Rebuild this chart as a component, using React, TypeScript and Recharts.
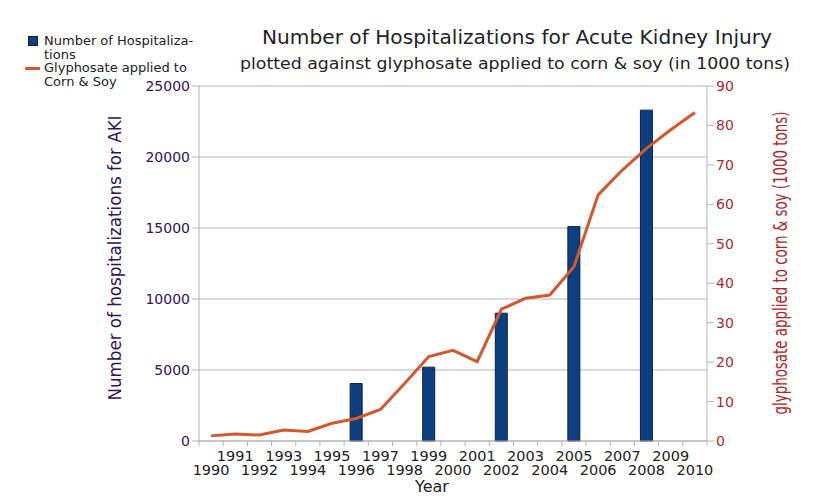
import React from 'react';
import { ComposedChart, Bar, Line, XAxis, YAxis, CartesianGrid, Label } from 'recharts';

const years = ['1990', '1991', '1992', '1993', '1994', '1995', '1996', '1997', '1998', '1999', '2000',
  '2001', '2002', '2003', '2004', '2005', '2006', '2007', '2008', '2009', '2010'];

// hospitalizations only reported every 3 years
const hospitalizations = [null, null, null, null, null, null, 4050, null, null, 5200, null,
  null, 9000, null, null, 15100, null, null, 23300, null, null];

const glyphosate = [1.3, 1.8, 1.5, 2.8, 2.4, 4.5, 5.7, 8, 14.6, 21.4, 23,
  20.1, 33.4, 36.2, 37, 44.2, 62.4, 68.7, 74.2, 78.9, 83.3];

const leftTicks = [0, 5000, 10000, 15000, 20000, 25000];
const rightTicks = [0, 10, 20, 30, 40, 50, 60, 70, 80, 90];

const data = years.map((year, i) => ({
  year,
  hosp: hospitalizations[i],
  gly: glyphosate[i],
}));

const FONT = '"DejaVu Sans", sans-serif';
const NARROW = '"DejaVu Sans Condensed", "Liberation Sans Narrow", sans-serif';
const GRID = '#b3b3b3';
const BAR_BLUE = '#0b3f7f';
const LINE_ORANGE = '#d4582c';
const PURPLE = '#33115e';
const RED = '#b32626';

const BAND = 508 / 21;

const YearTick = (props: any) => {
  const { x, y, payload, index } = props;
  const odd = index % 2 === 1;
  return (
    <g>
      <line x1={x - BAND / 2} x2={x - BAND / 2} y1={y - 8} y2={y - 3} stroke={GRID} />
      {index === years.length - 1 && (
        <line x1={x + BAND / 2} x2={x + BAND / 2} y1={y - 8} y2={y - 3} stroke={GRID} />
      )}
      <text x={x} y={odd ? y + 12 : y + 26} textAnchor="middle" fontFamily={FONT} fontSize={14.5} fill="#222">
        {payload.value}
      </text>
    </g>
  );
};

const App: React.FC = () => {
  return (
    <div style={{ position: 'relative', width: 832, height: 498, background: '#fff', fontFamily: FONT }}>
      <style>{'body{margin:0}'}</style>

      <svg width={832} height={80} style={{ position: 'absolute', left: 0, top: 0 }}>
        <text x={517} y={44} textAnchor="middle" fontFamily={FONT} fontSize={19} fill="#222"
          textLength={510} lengthAdjust="spacingAndGlyphs">
          Number of Hospitalizations for Acute Kidney Injury
        </text>
        <text x={515} y={69} textAnchor="middle" fontFamily={FONT} fontSize={16} fill="#222"
          textLength={550} lengthAdjust="spacingAndGlyphs">
          plotted against glyphosate applied to corn &amp; soy (in 1000 tons)
        </text>
      </svg>

      <div style={{ position: 'absolute', left: 25, top: 34, fontSize: 13, lineHeight: '13.5px', color: '#222' }}>
        <div style={{ position: 'relative', paddingLeft: 19 }}>
          <span style={{ position: 'absolute', left: 3, top: 2, width: 10, height: 10, background: BAR_BLUE, border: '1px solid #0b2240', boxSizing: 'border-box' }} />
          Number of Hospitaliza-<br />tions
        </div>
        <div style={{ position: 'relative', paddingLeft: 19 }}>
          <span style={{ position: 'absolute', left: 0, top: 6, width: 15, height: 3, background: LINE_ORANGE }} />
          Glyphosate applied to<br />Corn &amp; Soy
        </div>
      </div>

      <ComposedChart
        width={832}
        height={498}
        data={data}
        margin={{ top: 86, right: 65, left: 139, bottom: 12 }}
        style={{ position: 'absolute', left: 0, top: 0 }}
      >
        <CartesianGrid yAxisId="left" vertical={false} horizontal stroke={GRID} strokeWidth={1} />
        <XAxis
          dataKey="year"
          interval={0}
          height={45}
          tickLine={false}
          axisLine={{ stroke: GRID }}
          tick={<YearTick />}
        >
          <Label
            content={() => (
              <text x={432} y={492} textAnchor="middle" fontFamily={FONT} fontSize={16} fill="#222">Year</text>
            )}
          />
        </XAxis>
        <YAxis
          yAxisId="left"
          orientation="left"
          width={60}
          domain={[0, 25000]}
          ticks={leftTicks}
          tickSize={7}
          axisLine={{ stroke: GRID }}
          tickLine={{ stroke: GRID }}
          tick={{ fill: PURPLE, fontFamily: FONT, fontSize: 14 }}
        >
          <Label
            content={() => (
              <text x={121} y={258} transform="rotate(-90,121,258)" textAnchor="middle" fontFamily={NARROW} fontSize={18}
                fill={PURPLE} textLength={285} lengthAdjust="spacingAndGlyphs">
                Number of hospitalizations for AKI
              </text>
            )}
          />
        </YAxis>
        <YAxis
          yAxisId="right"
          orientation="right"
          width={60}
          domain={[0, 90]}
          ticks={rightTicks}
          tickSize={7}
          axisLine={{ stroke: GRID }}
          tickLine={{ stroke: GRID }}
          tick={{ fill: RED, fontFamily: FONT, fontSize: 14 }}
        >
          <Label
            content={() => (
              <text x={787} y={263} transform="rotate(-90,787,263)" textAnchor="middle" fontFamily={NARROW} fontSize={19}
                fill={RED} textLength={303} lengthAdjust="spacingAndGlyphs">
                glyphosate applied to corn &amp; soy (1000 tons)
              </text>
            )}
          />
        </YAxis>
        <Bar yAxisId="left" dataKey="hosp" fill={BAR_BLUE} stroke="#0b2240" strokeWidth={1} barSize={12} isAnimationActive={false} />
        <Line yAxisId="right" dataKey="gly" type="linear" stroke={LINE_ORANGE} strokeWidth={3} dot={false} activeDot={false} isAnimationActive={false} />
      </ComposedChart>
    </div>
  );
};

export default App;
